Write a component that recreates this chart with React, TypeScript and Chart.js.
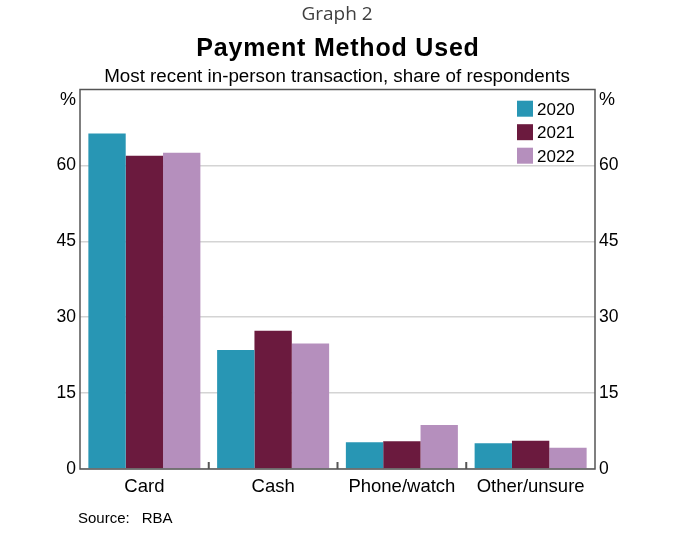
import { useEffect, useRef } from 'react';
import { Chart, registerables } from 'chart.js';

Chart.register(...registerables);

const categories = ['Card', 'Cash', 'Phone/watch', 'Other/unsure'];
const years = ['2020', '2021', '2022'];
const share2020 = [66.3, 23.5, 5.3, 5.1];
const share2021 = [61.9, 27.3, 5.5, 5.6];
const share2022 = [62.5, 24.8, 8.7, 4.2];
const yTicks = [0, 15, 30, 45, 60];
const colors = ['#2896b4', '#6b1a3e', '#b58fbd'];

const SANS = "'Liberation Sans', Arial, sans-serif";
const AXIS = '#555555';

// frame, inward category ticks, legend, titles and source line
const decorations = {
  id: 'decorations',
  afterDraw(chart: any) {
    const { ctx, chartArea: a } = chart;
    const x = chart.scales.x;
    ctx.save();

    ctx.strokeStyle = AXIS;
    ctx.lineWidth = 1.5;
    ctx.strokeRect(a.left, a.top, a.right - a.left, a.bottom - a.top);

    ctx.lineWidth = 2;
    for (let i = 0; i < categories.length - 1; i++) {
      const px = (x.getPixelForValue(i) + x.getPixelForValue(i + 1)) / 2;
      ctx.beginPath();
      ctx.moveTo(px, a.bottom);
      ctx.lineTo(px, a.bottom - 7);
      ctx.stroke();
    }

    ctx.fillStyle = '#000';
    ctx.textBaseline = 'alphabetic';
    ctx.font = `18px ${SANS}`;
    ctx.textAlign = 'right';
    ctx.fillText('%', a.left - 4, 105);
    ctx.textAlign = 'left';
    ctx.fillText('%', a.right + 4, 105);

    // legend
    ctx.font = `17px ${SANS}`;
    chart.data.datasets.forEach((ds: any, i: number) => {
      const top = 100.7 + i * 23.5;
      ctx.fillStyle = ds.backgroundColor;
      ctx.fillRect(517, top, 16, 16);
      ctx.fillStyle = '#000';
      ctx.fillText(ds.label, 537, top + 14);
    });

    ctx.textAlign = 'center';
    ctx.fillStyle = '#404040';
    ctx.font = `19px 'Open Sans', sans-serif`;
    ctx.fillText('Graph 2', 337, 20);
    ctx.fillStyle = '#000';
    ctx.font = `bold 25px ${SANS}`;
    (ctx as any).letterSpacing = '0.8px';
    ctx.fillText('Payment Method Used', 338, 56);
    (ctx as any).letterSpacing = '0px';
    ctx.font = `18.8px ${SANS}`;
    ctx.fillText('Most recent in-person transaction, share of respondents', 337, 81.7);

    ctx.textAlign = 'left';
    ctx.font = `15px ${SANS}`;
    ctx.fillText('Source:', 78, 522.7);
    ctx.fillText('RBA', 141.7, 522.7);
    ctx.restore();
  },
};

export default function App() {
  const ref = useRef<HTMLCanvasElement>(null);
  useEffect(() => {
    if (!ref.current) return;
    const yScale = (position: 'left' | 'right', width: number) => ({
      position,
      min: 0,
      max: 75,
      afterBuildTicks: (s: any) => {
        s.ticks = yTicks.map((v) => ({ value: v }));
      },
      afterFit: (s: any) => {
        s.width = width;
      },
      border: { display: false },
      grid: {
        display: position === 'left',
        color: '#d4d4d4',
        lineWidth: 1.5,
        drawTicks: false,
      },
      ticks: {
        color: '#000',
        padding: 4,
        font: { family: SANS, size: 17.5 },
      },
    });
    const chart = new Chart(ref.current, {
      type: 'bar',
      data: {
        labels: categories,
        datasets: [share2020, share2021, share2022].map((d, i) => ({
          label: years[i],
          data: d,
          backgroundColor: colors[i],
          categoryPercentage: 0.87,
          barPercentage: 1,
        })),
      },
      options: {
        animation: false,
        responsive: false,
        layout: { padding: { top: 89.5, left: 0, right: 0, bottom: 0 } },
        plugins: { legend: { display: false }, tooltip: { enabled: false } },
        scales: {
          x: {
            afterFit: (s: any) => {
              s.height = 65;
            },
            border: { display: false },
            grid: { display: false },
            ticks: {
              color: '#000',
              padding: -1,
              font: { family: SANS, size: 18.5 },
            },
          },
          y: yScale('left', 80),
          y2: yScale('right', 78),
        },
      },
      plugins: [decorations],
    });
    return () => chart.destroy();
  }, []);
  return (
    <div style={{ position: 'absolute', left: 0, top: 0, width: 673, height: 534, background: '#fff' }}>
      <canvas ref={ref} width={673} height={534} style={{ width: 673, height: 534 }} />
    </div>
  );
}
